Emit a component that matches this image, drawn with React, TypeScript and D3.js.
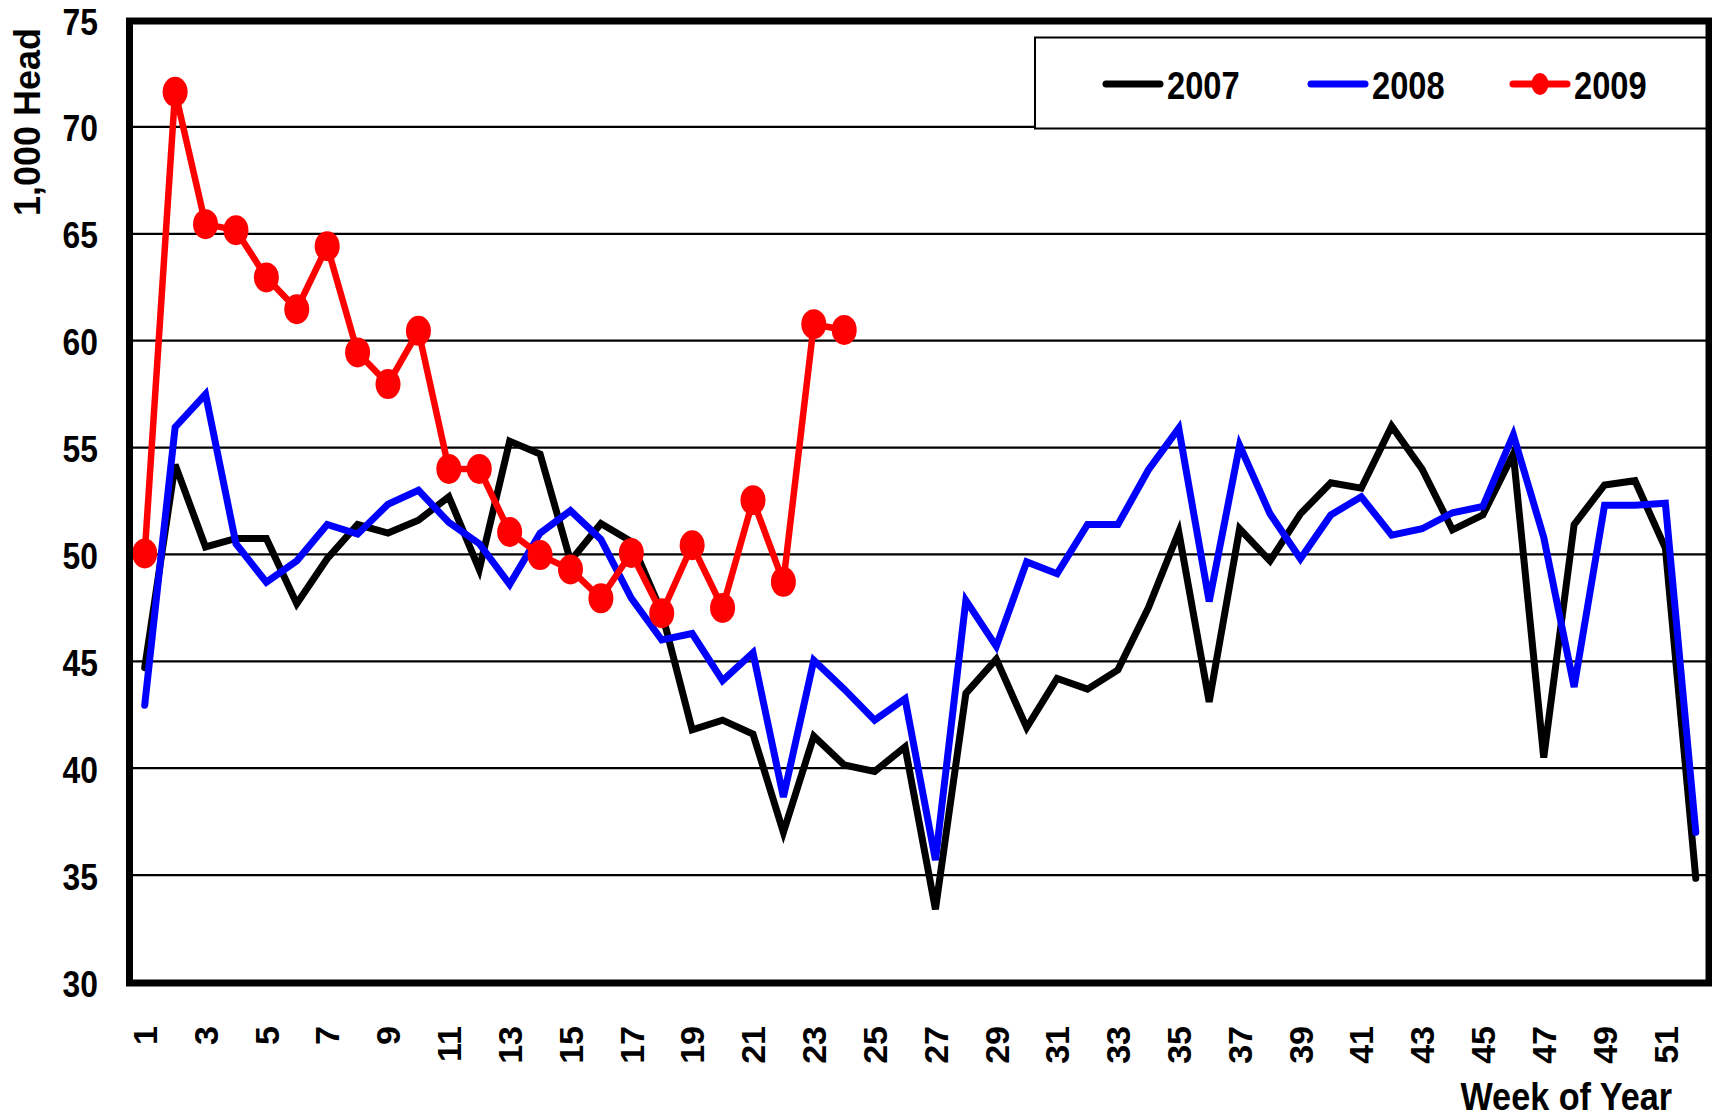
import React from "react";
import * as d3 from "d3";

// weekly slaughter, 1,000 head
const series2007 = [44.7, 54.2, 50.35, 50.75, 50.75, 47.7, 49.8, 51.4, 51.0, 51.6, 52.7, 49.3, 55.3, 54.7, 49.7, 51.45, 50.6, 47.3, 41.8, 42.25, 41.6, 37.0, 41.5, 40.15, 39.85, 41.0, 33.4, 43.5, 45.1, 41.9, 44.2, 43.7, 44.6, 47.5, 51.05, 43.1, 51.2, 49.7, 51.9, 53.35, 53.1, 56.0, 54.0, 51.15, 51.85, 54.7, 40.5, 51.4, 53.25, 53.45, 50.3, 34.85];
const series2008 = [42.95, 55.95, 57.5, 50.5, 48.7, 49.7, 51.4, 50.95, 52.35, 53.0, 51.5, 50.5, 48.6, 51.0, 52.05, 50.7, 47.95, 46.0, 46.3, 44.1, 45.4, 38.65, 45.05, 43.7, 42.25, 43.25, 35.7, 47.85, 45.7, 49.65, 49.1, 51.4, 51.4, 53.95, 55.9, 47.8, 55.1, 51.9, 49.8, 51.85, 52.7, 50.9, 51.2, 51.95, 52.25, 55.6, 50.8, 43.8, 52.3, 52.3, 52.4, 37.0];
const series2009 = [50.05, 71.64, 65.45, 65.17, 62.96, 61.47, 64.42, 59.45, 57.97, 60.46, 54.0, 54.0, 51.05, 49.97, 49.3, 47.95, 50.07, 47.25, 50.43, 47.5, 52.54, 48.72, 60.77, 60.5];

const weekTicks = [1, 3, 5, 7, 9, 11, 13, 15, 17, 19, 21, 23, 25, 27, 29, 31, 33, 35, 37, 39, 41, 43, 45, 47, 49, 51];
const yTicks = [30, 35, 40, 45, 50, 55, 60, 65, 70, 75];
const gridValues = [35, 40, 45, 50, 55, 60, 65, 70];
const legendNames = ["2007", "2008", "2009"];

const W = 1712;
const H = 1118;
const plot = { left: 129.5, right: 1709, top: 21, bottom: 983 };
const font = "'Liberation Sans', Arial, sans-serif";
// the original type is a condensed bold face, squeeze the horizontal texts
const squeeze = 0.86;

export default function App() {
  const x = d3.scaleLinear().domain([0.5, 52.5]).range([129.5, 1711]);
  const y = d3.scaleLinear().domain([30, 75]).range([982, 20]);

  const line = d3
    .line<number>()
    .x((d, i) => x(i + 1))
    .y((d) => y(d));

  return (
    <svg width={W} height={H} style={{ position: "absolute", left: 0, top: 0, background: "#fff" }}>
      {/* gridlines */}
      {gridValues.map((v) => (
        <line key={v} x1={plot.left} x2={plot.right} y1={y(v)} y2={y(v)} stroke="#000" strokeWidth={2.2} />
      ))}

      {/* legend box (sits over the 70 gridline) */}
      <rect x={1035} y={37.5} width={plot.right - 1035} height={91} fill="#fff" stroke="#000" strokeWidth={2} />

      {/* series */}
      <path d={line(series2007) || ""} fill="none" stroke="#000" strokeWidth={7} strokeLinejoin="miter" strokeLinecap="round" />
      <path d={line(series2008) || ""} fill="none" stroke="#0000ff" strokeWidth={7} strokeLinejoin="miter" strokeLinecap="round" />
      <path d={line(series2009) || ""} fill="none" stroke="#ff0000" strokeWidth={6.5} strokeLinejoin="round" strokeLinecap="round" />
      {series2009.map((v, i) => (
        <ellipse key={i} cx={x(i + 1)} cy={y(v)} rx={12.5} ry={15} fill="#ff0000" />
      ))}

      {/* frame */}
      <rect x={plot.left} y={plot.top} width={plot.right - plot.left} height={plot.bottom - plot.top} fill="none" stroke="#000" strokeWidth={7} />

      {/* y ticks */}
      {yTicks.map((v) => (
        <text
          key={v}
          transform={`translate(98,${y(v) + 14.5}) scale(${squeeze},1)`}
          textAnchor="end"
          fontFamily={font}
          fontWeight="bold"
          fontSize={37}
        >
          {v}
        </text>
      ))}

      {/* x ticks */}
      {weekTicks.map((w) => (
        <text
          key={w}
          transform={`translate(${x(w)},1026) rotate(-90)`}
          textAnchor="end"
          dy="0.36em"
          fontFamily={font}
          fontWeight="bold"
          fontSize={34}
        >
          {w}
        </text>
      ))}

      {/* axis titles */}
      <text transform="translate(40,122) rotate(-90)" textAnchor="middle" fontFamily={font} fontWeight="bold" fontSize={36}>
        1,000 Head
      </text>
      <text transform={`translate(1672,1110) scale(0.9,1)`} textAnchor="end" fontFamily={font} fontWeight="bold" fontSize={38}>
        Week of Year
      </text>

      {/* legend */}
      {legendNames.map((name, i) => {
        const lx = [1106, 1311, 1513][i];
        const color = ["#000", "#0000ff", "#ff0000"][i];
        return (
          <g key={name}>
            <line x1={lx} x2={lx + 54} y1={84} y2={84} stroke={color} strokeWidth={7} strokeLinecap="round" />
            {i === 2 && <ellipse cx={lx + 27} cy={84} rx={8.5} ry={11} fill={color} />}
            <text transform={`translate(${lx + 61},99) scale(${squeeze},1)`} fontFamily={font} fontWeight="bold" fontSize={38}>
              {name}
            </text>
          </g>
        );
      })}
    </svg>
  );
}
